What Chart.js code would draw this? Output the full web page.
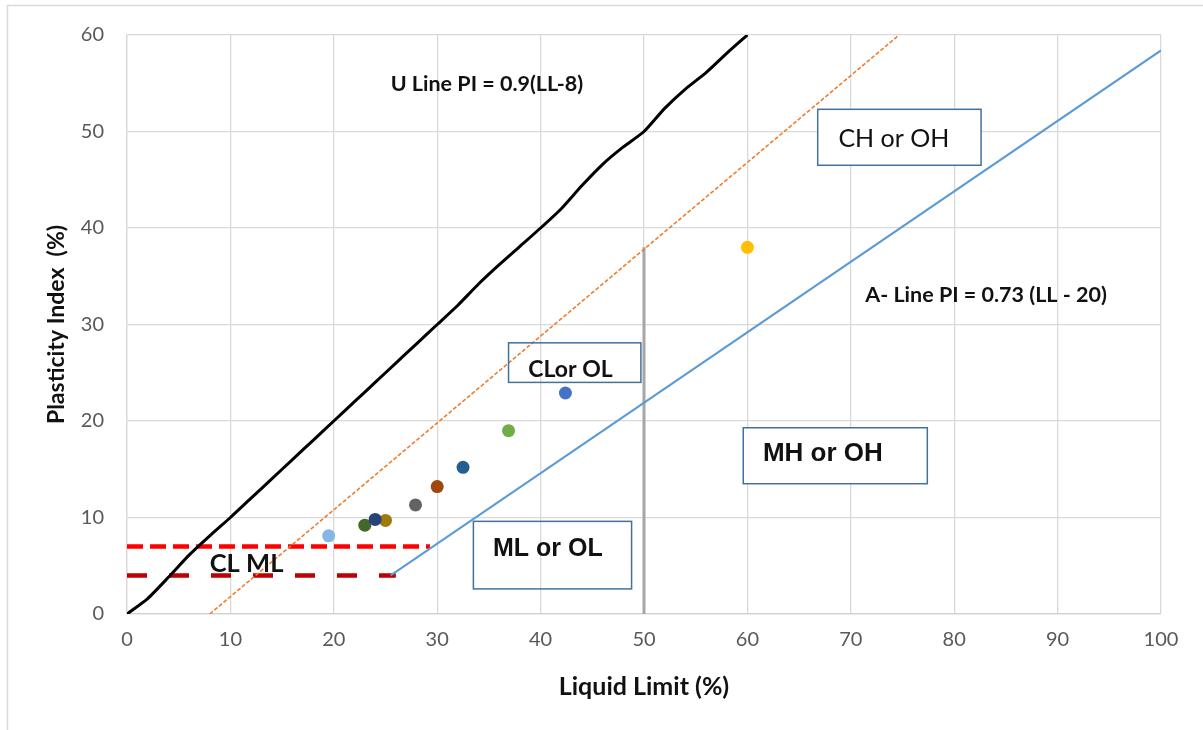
<!DOCTYPE html>
<html>
<head>
<meta charset="utf-8">
<title>Plasticity chart</title>
<script src="https://cdn.jsdelivr.net/npm/chart.js@4.4.1/dist/chart.umd.min.js"></script>
<style>
  html, body { margin: 0; padding: 0; background: #fff; }
  #wrap { width: 1203px; height: 730px; }
</style>
</head>
<body>
<div id="wrap"><canvas id="plasticityChart" width="1203" height="730"></canvas></div>
<script>
// black line (as drawn, smoothed)
const uLineLL = [0, 2, 4, 6, 8, 10, 12, 14, 16, 18, 20, 22, 24, 26, 28, 30, 32, 34, 36, 38, 40, 42, 44, 46, 48, 50, 52, 54, 56, 58, 60];
const uLinePI = [0, 1.6, 3.8, 6.1, 8.1, 10, 12, 14, 16, 18, 20, 22, 24, 26, 28, 30, 32, 34.2, 36.2, 38.1, 40, 42, 44.4, 46.6, 48.4, 50, 52.4, 54.4, 56.1, 58.1, 60];

// orange dotted line
const orangeLL = [8, 74.67];
const orangePI = [0, 60];

// A line
const aLineLL = [25.5, 100];
const aLinePI = [4, 58.4];

// LL = 50 divider
const divideLL = [50, 50];
const dividePI = [0, 38];

// CL-ML band limits
const upperBandLL = [0, 29.3];
const upperBandPI = [7, 7];
const lowerBandLL = [0, 26];
const lowerBandPI = [4, 4];

// samples
const sampleLL = [19.5, 23.0, 25.0, 24.0, 27.9, 30.0, 32.5, 36.9, 42.4, 60.0];
const samplePI = [8.1, 9.2, 9.7, 9.8, 11.3, 13.2, 15.2, 19.0, 22.9, 38.0];
const sampleColors = ['#86B6E3', '#43682B', '#9E7A0B', '#264478', '#636363', '#9E480E', '#255E91', '#70AD47', '#4472C4', '#FFC000'];

const xTickStep = 10;
const yTickStep = 10;

function pts(xs, ys) {
    return xs.map(function(x, i) { return {x: x, y: ys[i]}; });
}

// text boxes: [left, right, top, bottom] in LL / PI units
const notes = [
    {text: 'U Line PI = 0.9(LL-8)', at: [25.5, 54.9], font: 'bold 21.5px Lato'},
    {text: 'A- Line PI = 0.73 (LL - 20)', at: [71.4, 33.0], font: 'bold 21.5px Lato'},
    {text: 'CH or OH', at: [68.8, 49.2], font: '25px Lato', box: [66.8, 82.6, 52.3, 46.5], fill: true},
    {text: 'CLor OL', at: [38.8, 25.3], font: 'bold 23px Lato', box: [36.9, 49.7, 28.1, 24.0]},
    {text: 'MH or OH', at: [61.5, 16.6], font: 'bold 26px "Liberation Sans"', box: [59.6, 77.4, 19.3, 13.5], fill: true},
    {text: 'ML or OL', at: [35.4, 6.7], font: 'bold 25px "Liberation Sans"', box: [33.5, 48.8, 9.6, 2.6]},
    {text: 'CL ML', at: [8.0, 5.2], font: 'bold 25.5px Lato'}
];

const chartFrame = {
    id: 'chartFrame',
    beforeDraw: function(chart) {
        var ctx = chart.ctx;
        ctx.save();
        ctx.fillStyle = '#fff';
        ctx.fillRect(0, 0, chart.width, chart.height);
        ctx.strokeStyle = '#D9D9D9';
        ctx.lineWidth = 1.5;
        ctx.beginPath();
        ctx.moveTo(7.5, chart.height);
        ctx.lineTo(7.5, 5.5);
        ctx.lineTo(chart.width, 5.5);
        ctx.stroke();
        ctx.restore();
    }
};

const noteLabels = {
    id: 'noteLabels',
    afterDatasetsDraw: function(chart) {
        var ctx = chart.ctx;
        var xs = chart.scales.x;
        var ys = chart.scales.y;
        ctx.save();
        notes.forEach(function(n) {
            if (n.box) {
                var l = xs.getPixelForValue(n.box[0]);
                var r = xs.getPixelForValue(n.box[1]);
                var t = ys.getPixelForValue(n.box[2]);
                var b = ys.getPixelForValue(n.box[3]);
                if (n.fill) {
                    ctx.fillStyle = '#fff';
                    ctx.fillRect(l, t, r - l, b - t);
                }
                ctx.strokeStyle = '#41719C';
                ctx.lineWidth = 1.5;
                ctx.strokeRect(l, t, r - l, b - t);
            }
            ctx.font = n.font;
            ctx.fillStyle = '#111';
            ctx.textAlign = 'left';
            ctx.textBaseline = 'middle';
            ctx.fillText(n.text, xs.getPixelForValue(n.at[0]), ys.getPixelForValue(n.at[1]));
        });
        ctx.restore();
    }
};

var ctx = document.getElementById('plasticityChart');

new Chart(ctx, {
    type: 'scatter',
    data: {
        datasets: [{
            label: 'Samples',
            data: pts(sampleLL, samplePI),
            pointBackgroundColor: sampleColors,
            pointBorderWidth: 0,
            pointRadius: 6.5,
            showLine: false,
            order: 0
        }, {
            label: 'U line',
            data: pts(uLineLL, uLinePI),
            showLine: true,
            borderColor: '#000',
            borderWidth: 3,
            tension: 0.2,
            pointRadius: 0,
            order: 1
        }, {
            label: 'U line 0.9(LL-8)',
            data: pts(orangeLL, orangePI),
            showLine: true,
            borderColor: '#ED7D31',
            borderWidth: 1.6,
            borderDash: [4, 2],
            pointRadius: 0,
            order: 2
        }, {
            label: 'A line',
            data: pts(aLineLL, aLinePI),
            showLine: true,
            borderColor: '#5B9BD5',
            borderWidth: 2,
            pointRadius: 0,
            order: 2
        }, {
            label: 'LL 50',
            data: pts(divideLL, dividePI),
            showLine: true,
            borderColor: '#A6A6A6',
            borderWidth: 3,
            pointRadius: 0,
            order: 3
        }, {
            label: 'PI 7',
            data: pts(upperBandLL, upperBandPI),
            showLine: true,
            borderColor: '#FF0000',
            borderWidth: 4.5,
            borderDash: [16, 7],
            pointRadius: 0,
            order: 4
        }, {
            label: 'PI 4',
            data: pts(lowerBandLL, lowerBandPI),
            showLine: true,
            borderColor: '#C00000',
            borderWidth: 4.5,
            borderDash: [20, 22],
            pointRadius: 0,
            order: 5
        }]
    },
    options: {
        responsive: false,
        animation: false,
        devicePixelRatio: 1,
        layout: {
            padding: {left: 0, right: 42, top: 35, bottom: 0}
        },
        plugins: {
            legend: {display: false},
            tooltip: {enabled: false}
        },
        scales: {
            x: {
                type: 'linear',
                min: 0,
                max: 100,
                afterFit: function(scale) { scale.height = 116; },
                ticks: {
                    stepSize: xTickStep,
                    color: '#595959',
                    font: {family: 'Lato', size: 20},
                    padding: 14,
                    maxRotation: 0
                },
                grid: {color: '#D9D9D9', lineWidth: 1.3, drawTicks: false},
                border: {color: '#D0D0D0', width: 1.3},
                title: {
                    display: true,
                    text: 'Liquid Limit (%)',
                    color: '#111',
                    font: {family: 'Lato', size: 25, weight: 'bold'},
                    padding: {top: 0, bottom: 28}
                }
            },
            y: {
                type: 'linear',
                min: 0,
                max: 60,
                afterFit: function(scale) { scale.width = 127; },
                ticks: {
                    stepSize: yTickStep,
                    color: '#595959',
                    font: {family: 'Lato', size: 20},
                    padding: 23
                },
                grid: {color: '#D9D9D9', lineWidth: 1.3, drawTicks: false},
                border: {color: '#D9D9D9', width: 1.3},
                title: {
                    display: true,
                    text: 'Plasticity Index  (%)',
                    color: '#111',
                    font: {family: 'Lato', size: 23, weight: 'bold'},
                    padding: {top: 43, bottom: 0}
                }
            }
        }
    },
    plugins: [chartFrame, noteLabels]
});
</script>
</body>
</html>
